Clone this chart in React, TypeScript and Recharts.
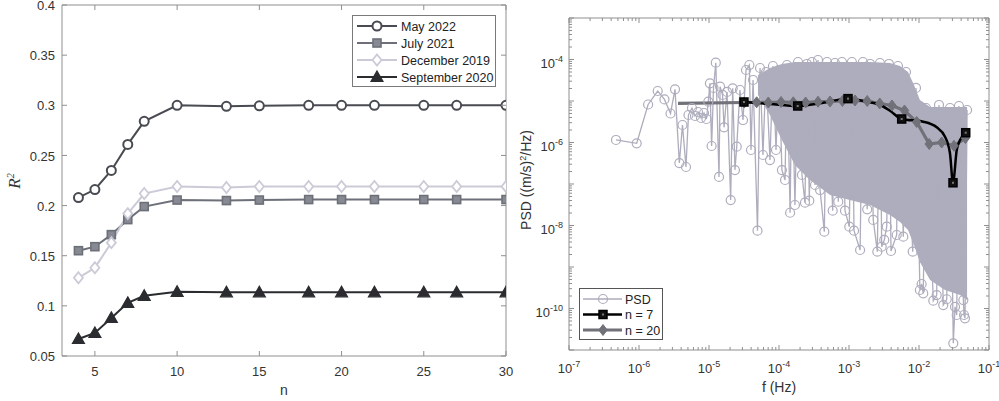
import React from 'react';
import { LineChart, Line, XAxis, YAxis, ComposedChart, Area } from 'recharts';

// ---------------- Left panel data ----------------
const nValues = [4, 5, 6, 7, 8, 10, 13, 15, 18, 20, 22, 25, 27, 30];
const may2022 = [0.208, 0.216, 0.235, 0.261, 0.284, 0.3, 0.299, 0.2995, 0.3, 0.3, 0.3, 0.3, 0.3, 0.3];
const july2021 = [0.155, 0.159, 0.171, 0.186, 0.199, 0.2055, 0.205, 0.2055, 0.206, 0.206, 0.206, 0.206, 0.206, 0.206];
const dec2019 = [0.128, 0.138, 0.163, 0.192, 0.212, 0.219, 0.218, 0.219, 0.219, 0.219, 0.219, 0.219, 0.219, 0.219];
const sep2020 = [0.067, 0.073, 0.088, 0.103, 0.11, 0.114, 0.1135, 0.1135, 0.1135, 0.1135, 0.1135, 0.1135, 0.1135, 0.1135];
const nTicks = [5, 10, 15, 20, 25, 30];
const r2Ticks = [0.05, 0.1, 0.15, 0.2, 0.25, 0.3, 0.35, 0.4];
const leftSeriesNames = ['May 2022', 'July 2021', 'December 2019', 'September 2020'];

// ---------------- Right panel data ----------------
const psdFreq = [
  4.69e-7, 9.27e-7, 1.35e-6, 1.85e-6, 2.31e-6, 2.82e-6, 3.27e-6, 3.77e-6, 4.18e-6, 4.69e-6,
  5.09e-6, 5.71e-6, 6.31e-6, 6.97e-6, 7.69e-6, 8.49e-6, 9.2e-6, 9.77e-6, 1.03e-5, 1.09e-5,
  1.16e-5, 1.25e-5, 1.39e-5, 1.44e-5, 1.56e-5, 1.64e-5, 1.81e-5, 2.04e-5, 2.18e-5, 2.35e-5,
  2.49e-5, 2.77e-5, 3.06e-5, 3.38e-5, 3.77e-5, 3.98e-5, 4.26e-5, 4.93e-5, 5.36e-5, 5.9e-5,
  6.52e-5, 7.43e-5, 8.2e-5, 9.06e-5, 1.0e-4, 1.1e-4, 1.22e-4, 1.3e-4, 1.44e-4, 1.53e-4,
  1.69e-4, 1.87e-4, 2.13e-4, 2.35e-4, 2.51e-4, 2.71e-4, 2.96e-4, 3.27e-4, 3.61e-4, 3.86e-4,
  4.44e-4, 4.85e-4, 5.85e-4, 6.31e-4, 7.03e-4, 7.94e-4, 8.77e-4, 1.01e-3, 1.1e-3, 1.18e-3,
  1.44e-3, 1.58e-3, 1.82e-3, 2.0e-3, 2.22e-3, 2.54e-3, 2.77e-3, 2.93e-3, 3.19e-3, 3.46e-3,
  3.72e-3, 3.98e-3, 4.8e-3, 5.01e-3, 5.97e-3, 6.52e-3, 8.13e-3, 9.06e-3, 1.03e-2, 1.09e-2,
  1.15e-2, 1.26e-2, 1.6e-2, 1.79e-2, 1.93e-2, 2.22e-2, 2.49e-2, 2.77e-2, 3.09e-2, 3.27e-2,
  3.46e-2, 3.72e-2, 4.3e-2, 4.4e-2, 4.54e-2, 4.86e-2,
];
const psdValues = [
  1.15e-6, 9.57e-7, 8.24e-6, 1.74e-5, 1.09e-5, 5.0e-6, 1.91e-5, 3.2e-7, 2.64e-6, 2.57e-7,
  4.6e-6, 6.78e-6, 4.35e-6, 5.43e-6, 3.89e-6, 5.14e-6, 3.68e-6, 9.62e-6, 2.67e-5, 8.24e-7,
  2.06e-5, 8.38e-5, 1.48e-7, 2.21e-5, 1.4e-5, 2.32e-6, 1.65e-5, 4.11e-8, 2.02e-5, 2.17e-7,
  7.93e-7, 1.84e-5, 3.48e-6, 5.58e-5, 7.36e-5, 6.59e-7, 3.21e-5, 7.5e-9, 6.24e-5, 5.0e-7,
  5.0e-5, 3.78e-7, 6.97e-5, 6.59e-7, 5.58e-5, 2.17e-7, 1.25e-7, 7.36e-5, 2.03e-8, 5.0e-5,
  3.12e-8, 8.71e-5, 1.65e-7, 3.54e-8, 7.8e-5, 3.96e-8, 8.71e-5, 9.46e-8, 9.73e-5, 7.16e-8,
  7.1e-9, 8.71e-5, 2.28e-8, 8.24e-5, 3.74e-8, 8.71e-5, 2.28e-8, 9.35e-9, 8.71e-5, 7.5e-9,
  2.57e-9, 8.71e-5, 2.45e-8, 7.8e-5, 1.36e-8, 2.34e-9, 8.24e-5, 3.08e-9, 4.48e-9, 9.35e-9,
  7.8e-5, 2.43e-9, 5.9e-9, 6.97e-5, 5.37e-9, 5.0e-5, 2.34e-9, 2.06e-5, 2.79e-10, 3.89e-10,
  2.32e-10, 6.78e-6, 1.54e-10, 2.11e-10, 8.02e-6, 1.21e-10, 1.67e-10, 6.78e-6, 1.45e-11, 1.1e-10,
  6.97e-11, 7.58e-6, 1.6e-10, 6.97e-11, 5.8e-11, 6.07e-6,
];
// dense core of the PSD cloud (lower / upper envelope)
const coreFreq = [5.01e-5, 7.43e-5, 1.1e-4, 1.69e-4, 2.77e-4, 5.36e-4, 1.03e-3, 2.0e-3, 3.85e-3, 5.36e-3, 6.97e-3, 8.49e-3, 1.03e-2, 1.44e-2, 2.35e-2, 3.86e-2, 4.86e-2];
const coreLow = [1.4e-5, 4.6e-6, 1.15e-6, 2.87e-7, 1.25e-7, 5.43e-8, 4.11e-8, 3.12e-8, 1.79e-8, 1.21e-8, 7.8e-9, 3.39e-9, 1.32e-9, 4.86e-10, 2.79e-10, 2.11e-10, 1.6e-10];
const coreHigh = [4.24e-5, 6.24e-5, 7.8e-5, 8.71e-5, 8.71e-5, 8.71e-5, 8.71e-5, 8.71e-5, 8.24e-5, 6.97e-5, 5.0e-5, 2.43e-5, 1.06e-5, 7.16e-6, 7.16e-6, 7.16e-6, 7.16e-6];

const n20Freq = [3.61e-6, 3.19e-5, 4.8e-5, 7.03e-5, 1.07e-4, 1.6e-4, 2.4e-4, 3.61e-4, 5.36e-4, 8.07e-4, 1.22e-3, 1.82e-3, 2.75e-3, 4.11e-3, 6.21e-3, 9.27e-3, 1.4e-2, 2.11e-2, 3.16e-2, 4.61e-2];
const n20Values = [8.81e-6, 9.2e-6, 9.31e-6, 9.2e-6, 9.46e-6, 9.31e-6, 9.2e-6, 9.62e-6, 9.73e-6, 1.0e-5, 1.03e-5, 1.0e-5, 8.71e-6, 7.79e-6, 5.9e-6, 3.12e-6, 9.2e-7, 1.0e-6, 8.32e-7, 1.28e-6];

const n7CurveFreq = [3.16e-5, 7.43e-5, 1.85e-4, 4.11e-4, 9.68e-4, 1.79e-3, 2.77e-3, 3.85e-3, 5.66e-3, 1.15e-2, 1.79e-2, 2.35e-2, 2.77e-2, 3.06e-2, 3.46e-2, 3.86e-2, 4.65e-2];
const n7CurveValues = [9.46e-6, 8.47e-6, 7.58e-6, 8.95e-6, 1.14e-5, 9.62e-6, 8.01e-6, 5.84e-6, 3.68e-6, 3.17e-6, 2.32e-6, 1.38e-6, 5.49e-7, 1.07e-7, 6.59e-7, 1.15e-6, 1.72e-6];
const n7NodeFreq = [3.16e-5, 1.85e-4, 9.68e-4, 5.66e-3, 3.06e-2, 4.65e-2];
const n7NodeValues = [9.46e-6, 7.58e-6, 1.14e-5, 3.68e-6, 1.07e-7, 1.72e-6];

const xDecades = [-7, -6, -5, -4, -3, -2, -1];
const yDecades = [-11, -10, -9, -8, -7, -6, -5, -4, -3];
const yLabelDecades = [-10, -8, -6, -4];
const rightSeriesNames = ['PSD', 'n = 7', 'n = 20'];

// ---------------- derived tables ----------------
const leftData = nValues.map((n, i) => ({ n, may: may2022[i], jul: july2021[i], dec: dec2019[i], sep: sep2020[i] }));
const psdData = psdFreq.map((f, i) => ({ f, p: psdValues[i] }));
const coreData = coreFreq.map((f, i) => ({ f, range: [coreLow[i], coreHigh[i]] }));
const n20Data = n20Freq.map((f, i) => ({ f, p: n20Values[i] }));
const n7CurveData = n7CurveFreq.map((f, i) => ({ f, p: n7CurveValues[i] }));
const n7NodeData = n7NodeFreq.map((f, i) => ({ f, p: n7NodeValues[i] }));

const logTicks = (decades: number[]) => {
  const out: number[] = [];
  decades.forEach((d, i) => {
    out.push(Math.pow(10, d));
    if (i < decades.length - 1) for (let m = 2; m <= 9; m++) out.push(m * Math.pow(10, d));
  });
  return out;
};
const xLogTicks = logTicks(xDecades);
const yLogTicks = logTicks(yDecades);

// ---------------- styles ----------------
const FONT = '"Liberation Sans", Arial, Helvetica, sans-serif';
const AXIS = '#8f8f8f';
const TXT = '#333333';
const MAY_C = '#484b51';
const JUL_C = '#6d7079';
const DEC_C = '#cbcbd8';
const SEP_C = '#2a2c30';
const PSD_C = '#adadbd';
const CORE_C = '#adadbd';
const N20_C = '#717179';
const N7_C = '#000000';

// ---------------- markers ----------------
const circleMark = (cx: number, cy: number, k?: any) => (
  <circle key={k} cx={cx} cy={cy} r={4.5} fill="#ffffff" stroke={MAY_C} strokeWidth={2} />
);
const squareMark = (cx: number, cy: number, k?: any) => (
  <rect key={k} x={cx - 4} y={cy - 4} width={8} height={8} fill="#878a92" stroke={JUL_C} strokeWidth={1.6} />
);
const diamondMark = (cx: number, cy: number, k?: any) => (
  <polygon key={k} points={`${cx},${cy - 5.5} ${cx + 4.5},${cy} ${cx},${cy + 5.5} ${cx - 4.5},${cy}`} fill="#ffffff" stroke={DEC_C} strokeWidth={1.8} />
);
const triangleMark = (cx: number, cy: number, k?: any) => (
  <polygon key={k} points={`${cx},${cy - 6} ${cx + 6},${cy + 4.5} ${cx - 6},${cy + 4.5}`} fill={SEP_C} stroke={SEP_C} strokeWidth={1.2} />
);
const psdMark = (cx: number, cy: number, k?: any) => (
  <circle key={k} cx={cx} cy={cy} r={4.5} fill="none" stroke={PSD_C} strokeWidth={1.2} />
);
const n20Mark = (cx: number, cy: number, k?: any) => (
  <polygon key={k} points={`${cx},${cy - 5.5} ${cx + 4.2},${cy} ${cx},${cy + 5.5} ${cx - 4.2},${cy}`} fill={N20_C} stroke={N20_C} strokeWidth={1} />
);
const n7Mark = (cx: number, cy: number, k?: any) => (
  <g key={k}>
    <rect x={cx - 4} y={cy - 4} width={8} height={8} fill="#111111" stroke={N7_C} strokeWidth={1.5} />
    <rect x={cx - 1} y={cy - 1} width={2} height={2} fill="#777777" />
  </g>
);

const dotWith = (mark: (cx: number, cy: number, k?: any) => any, skipFirst = false) => (p: any) => {
  if (p.cx == null || p.cy == null || isNaN(p.cx) || isNaN(p.cy) || (skipFirst && p.index === 0)) {
    return <g key={`e${p.index}`} />;
  }
  return mark(p.cx, p.cy, `d${p.index}`);
};

// ---------------- ticks ----------------
const LinBottomTick = (props: any) => {
  const { x, y, payload } = props;
  return (
    <g>
      <line x1={x} x2={x} y1={y} y2={y - 5} stroke={AXIS} />
      <text x={x} y={y + 20} textAnchor="middle" fontSize={13} fontFamily={FONT} fill={TXT}>{String(payload.value)}</text>
    </g>
  );
};
const LinTopTick = (props: any) => {
  const { x, y } = props;
  return <line x1={x} x2={x} y1={y} y2={y + 5} stroke={AXIS} />;
};
const LinLeftTick = (props: any) => {
  const { x, y, payload } = props;
  return (
    <g>
      <line x1={x} x2={x + 5} y1={y} y2={y} stroke={AXIS} />
      <text x={x - 7} y={y + 5.2} textAnchor="end" fontSize={13} fontFamily={FONT} fill={TXT}>{String(payload.value)}</text>
    </g>
  );
};
const LinRightTick = (props: any) => {
  const { x, y } = props;
  return <line x1={x} x2={x - 5} y1={y} y2={y} stroke={AXIS} />;
};

const decadeOf = (v: number) => {
  const l = Math.log10(v);
  const r = Math.round(l);
  return Math.abs(l - r) < 1e-6 ? r : null;
};

const LogBottomTick = (props: any) => {
  const { x, y, payload } = props;
  const d = decadeOf(payload.value);
  const len = d !== null ? 5 : 3;
  return (
    <g>
      <line x1={x} x2={x} y1={y} y2={y - len} stroke={AXIS} />
      {d !== null && (
        <text x={x} y={y + 23} textAnchor="middle" fontSize={13} fontFamily={FONT} fill={TXT}>
          <tspan>10</tspan>
          <tspan dy={-6} fontSize={9}>{String(d)}</tspan>
        </text>
      )}
    </g>
  );
};
const LogTopTick = (props: any) => {
  const { x, y, payload } = props;
  const len = decadeOf(payload.value) !== null ? 5 : 3;
  return <line x1={x} x2={x} y1={y} y2={y + len} stroke={AXIS} />;
};
const LogLeftTick = (props: any) => {
  const { x, y, payload } = props;
  const d = decadeOf(payload.value);
  const len = d !== null ? 5 : 3;
  const labelled = d !== null && yLabelDecades.indexOf(d) >= 0;
  return (
    <g>
      <line x1={x} x2={x + len} y1={y} y2={y} stroke={AXIS} />
      {labelled && (
        <text x={x - 6} y={y + 8} textAnchor="end" fontSize={13} fontFamily={FONT} fill={TXT}>
          <tspan>10</tspan>
          <tspan dy={-6} fontSize={9}>{String(d)}</tspan>
        </text>
      )}
    </g>
  );
};
const LogRightTick = (props: any) => {
  const { x, y, payload } = props;
  const len = decadeOf(payload.value) !== null ? 5 : 3;
  return <line x1={x} x2={x - len} y1={y} y2={y} stroke={AXIS} />;
};

// ---------------- legends ----------------
const LeftLegend = () => {
  const marks = [circleMark, squareMark, diamondMark, triangleMark];
  const colors = [MAY_C, JUL_C, DEC_C, SEP_C];
  return (
    <g transform="translate(352,15)">
      <rect x={0.5} y={0.5} width={143} height={71} fill="#ffffff" stroke="#7a7a7a" strokeWidth={1} />
      {leftSeriesNames.map((name, i) => {
        const cy = 11 + i * 17;
        return (
          <g key={name}>
            <line x1={5} x2={45} y1={cy} y2={cy} stroke={colors[i]} strokeWidth={2} />
            {marks[i](25, cy)}
            <text x={49} y={cy + 4.5} fontSize={12.5} fontFamily={FONT} fill="#222">{name}</text>
          </g>
        );
      })}
    </g>
  );
};
const RightLegend = () => {
  const marks = [psdMark, n7Mark, n20Mark];
  const colors = [PSD_C, N7_C, N20_C];
  const widths = [1.5, 2.5, 3];
  return (
    <g transform="translate(579,288)">
      <rect x={0.5} y={0.5} width={83} height={51} fill="#ffffff" stroke="#555555" strokeWidth={1} />
      {rightSeriesNames.map((name, i) => {
        const cy = 11 + i * 15.5;
        return (
          <g key={name}>
            <line x1={4} x2={43} y1={cy} y2={cy} stroke={colors[i]} strokeWidth={widths[i]} />
            {marks[i](24, cy)}
            <text x={46} y={cy + 4.5} fontSize={12.5} fontFamily={FONT} fill="#222">{name}</text>
          </g>
        );
      })}
    </g>
  );
};

const axisCommon = { tickSize: 0, tickMargin: 0, tickLine: false, stroke: AXIS, interval: 0 as const, allowDataOverflow: true };

export default function App() {
  return (
    <div style={{ position: 'absolute', left: 0, top: 0, width: 999, height: 401, background: '#ffffff', overflow: 'hidden' }}>
      <div style={{ position: 'absolute', left: 0, top: 0 }}>
        <LineChart width={520} height={401} data={leftData} margin={{ top: 4, right: 13, bottom: 44, left: 61 }}>
          <XAxis xAxisId="b" dataKey="n" type="number" domain={[3, 30]} ticks={nTicks} height={1} {...axisCommon}
            tick={(p: any) => <LinBottomTick {...p} />} />
          <XAxis xAxisId="t" orientation="top" dataKey="n" type="number" domain={[3, 30]} ticks={nTicks} height={1} {...axisCommon}
            tick={(p: any) => <LinTopTick {...p} />} />
          <YAxis yAxisId="l" type="number" domain={[0.05, 0.4]} ticks={r2Ticks} width={1} {...axisCommon}
            tick={(p: any) => <LinLeftTick {...p} />} />
          <YAxis yAxisId="r" orientation="right" type="number" domain={[0.05, 0.4]} ticks={r2Ticks} width={1} {...axisCommon}
            tick={(p: any) => <LinRightTick {...p} />} />
          <Line xAxisId="b" yAxisId="l" dataKey="may" stroke={MAY_C} strokeWidth={2} type="linear" dot={dotWith(circleMark)} isAnimationActive={false} />
          <Line xAxisId="b" yAxisId="l" dataKey="jul" stroke={JUL_C} strokeWidth={2} type="linear" dot={dotWith(squareMark)} isAnimationActive={false} />
          <Line xAxisId="b" yAxisId="l" dataKey="dec" stroke={DEC_C} strokeWidth={2} type="linear" dot={dotWith(diamondMark)} isAnimationActive={false} />
          <Line xAxisId="b" yAxisId="l" dataKey="sep" stroke={SEP_C} strokeWidth={2} type="linear" dot={dotWith(triangleMark)} isAnimationActive={false} />
        </LineChart>
      </div>
      <div style={{ position: 'absolute', left: 520, top: 0 }}>
        <ComposedChart width={479} height={401} margin={{ top: 17, right: 9, bottom: 50, left: 48 }}>
          <XAxis xAxisId="b" dataKey="f" type="number" scale="log" domain={[1e-7, 1e-1]} ticks={xLogTicks} height={1} {...axisCommon}
            tick={(p: any) => <LogBottomTick {...p} />} />
          <XAxis xAxisId="t" orientation="top" dataKey="f" type="number" scale="log" domain={[1e-7, 1e-1]} ticks={xLogTicks} height={1} {...axisCommon}
            tick={(p: any) => <LogTopTick {...p} />} />
          <YAxis yAxisId="l" type="number" scale="log" domain={[1e-11, 1e-3]} ticks={yLogTicks} width={1} {...axisCommon}
            tick={(p: any) => <LogLeftTick {...p} />} />
          <YAxis yAxisId="r" orientation="right" type="number" scale="log" domain={[1e-11, 1e-3]} ticks={yLogTicks} width={1} {...axisCommon}
            tick={(p: any) => <LogRightTick {...p} />} />
          <Area xAxisId="b" yAxisId="l" data={coreData} dataKey="range" type="linear" stroke="none" fill={CORE_C} fillOpacity={1} isAnimationActive={false} />
          <Line xAxisId="b" yAxisId="l" data={psdData} dataKey="p" type="linear" stroke={PSD_C} strokeWidth={1.3} dot={dotWith(psdMark)} isAnimationActive={false} />
          <Line xAxisId="b" yAxisId="l" data={n20Data} dataKey="p" type="linear" stroke={N20_C} strokeWidth={3.2} dot={dotWith(n20Mark, true)} isAnimationActive={false} />
          <Line xAxisId="b" yAxisId="l" data={n7CurveData} dataKey="p" type="monotone" stroke={N7_C} strokeWidth={2.5} dot={false} isAnimationActive={false} />
          <Line xAxisId="b" yAxisId="l" data={n7NodeData} dataKey="p" type="linear" stroke="none" dot={dotWith(n7Mark)} isAnimationActive={false} />
        </ComposedChart>
      </div>
      <svg width={999} height={401} style={{ position: 'absolute', left: 0, top: 0, pointerEvents: 'none' }}>
        <text transform="translate(20,181) rotate(-90)" textAnchor="middle" fontSize={17} fontStyle="italic" fontFamily='"Liberation Serif", "DejaVu Serif", serif' fill={TXT}>
          R<tspan dy={-6} fontSize={10}>2</tspan>
        </text>
        <text x={284} y={395} textAnchor="middle" fontSize={14} fontFamily={FONT} fill={TXT}>n</text>
        <text transform="translate(531,180) rotate(-90)" textAnchor="middle" fontSize={14} fontFamily={FONT} fill={TXT}>
          PSD ((m/s)<tspan dy={-5} fontSize={9}>2</tspan><tspan dy={5}>/Hz)</tspan>
        </text>
        <text x={779} y={392} textAnchor="middle" fontSize={14} fontFamily={FONT} fill={TXT}>f (Hz)</text>
        <LeftLegend />
        <RightLegend />
      </svg>
    </div>
  );
}
